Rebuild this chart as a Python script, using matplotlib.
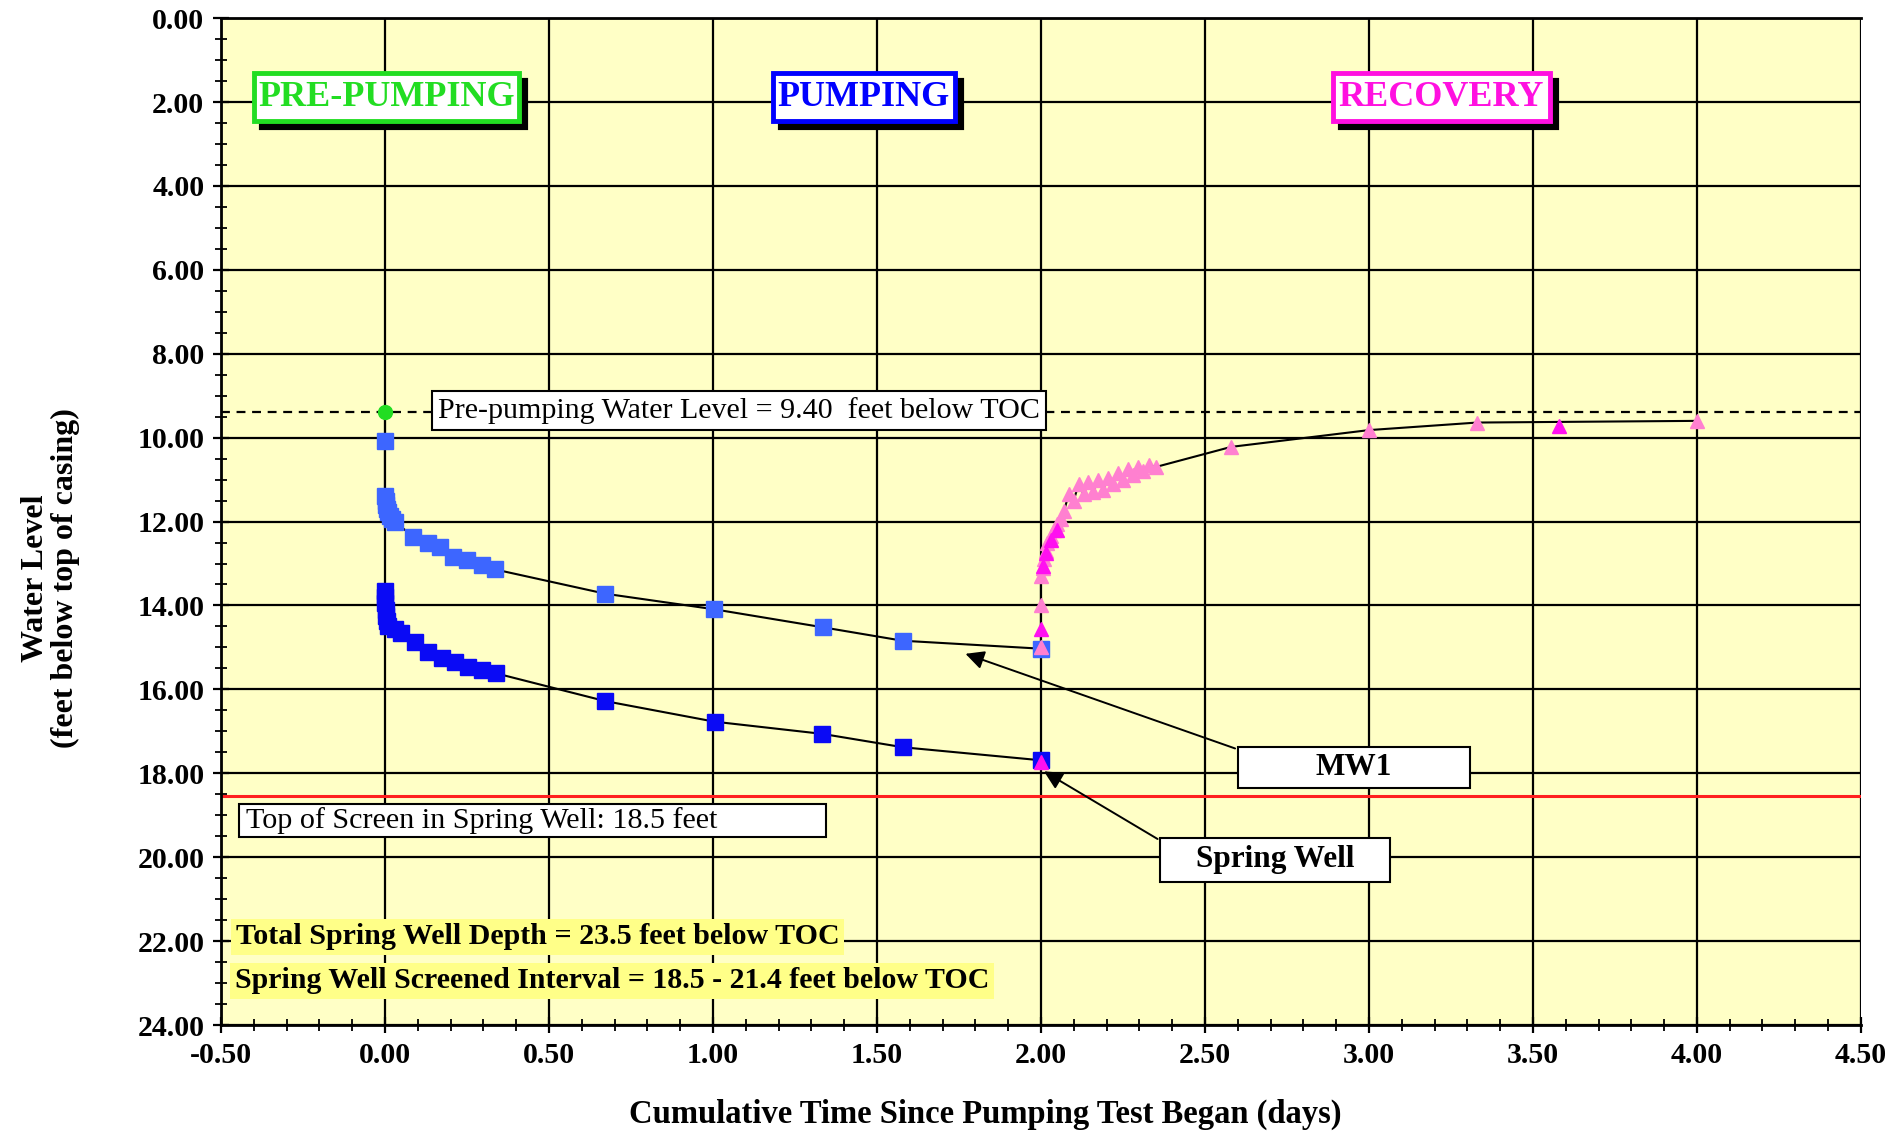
import numpy as np
import matplotlib
matplotlib.use("Agg")
import matplotlib.pyplot as plt
from matplotlib.patches import Rectangle
from matplotlib.transforms import offset_copy
from matplotlib.ticker import MultipleLocator, FormatStrFormatter

plt.rcParams["font.family"] = ["Liberation Serif", "DejaVu Serif"]

# pre-pumping level (days, feet below TOC)
pre_t = [0.0]
pre_wl = [9.40]

# MW1 during pumping
mw1_t = [0.0, 0.0, 0.002, 0.004, 0.007, 0.010, 0.015, 0.020, 0.030,
         0.086, 0.132, 0.168, 0.208, 0.249, 0.295, 0.335,
         0.672, 1.003, 1.335, 1.578, 2.0]
mw1_wl = [10.08, 11.40, 11.50, 11.60, 11.70, 11.78, 11.86, 11.93, 12.00,
          12.36, 12.52, 12.60, 12.84, 12.92, 13.04, 13.14,
          13.72, 14.09, 14.52, 14.84, 15.03]

# Spring Well during pumping
sw_t = [0.0, 0.0, 0.0, 0.002, 0.004, 0.007, 0.010, 0.030, 0.050,
        0.091, 0.132, 0.173, 0.213, 0.254, 0.295, 0.340,
        0.672, 1.005, 1.333, 1.580, 2.0]
sw_wl = [13.65, 13.80, 13.95, 14.10, 14.25, 14.38, 14.48, 14.56, 14.66,
         14.86, 15.10, 15.26, 15.34, 15.46, 15.54, 15.62,
         16.28, 16.77, 17.06, 17.38, 17.69]

# recovery (MW1)
rec_t = [2.0, 2.0, 2.0, 2.005, 2.01, 2.015, 2.02, 2.03, 2.04, 2.05, 2.06,
         2.07, 2.085, 2.10, 2.115, 2.13, 2.145, 2.16, 2.175, 2.19, 2.205,
         2.22, 2.235, 2.25, 2.265, 2.28, 2.295, 2.31, 2.33, 2.35,
         2.58, 3.0, 3.33, 4.0]
rec_wl = [15.0, 14.0, 13.3, 13.1, 12.9, 12.7, 12.5, 12.35, 12.2, 12.05, 11.95,
          11.75, 11.35, 11.5, 11.1, 11.35, 11.05, 11.3, 11.0, 11.25, 10.95,
          11.1, 10.85, 11.0, 10.75, 10.9, 10.7, 10.8, 10.65, 10.7,
          10.22, 9.82, 9.64, 9.60]

# recovery (Spring Well)
rec2_t = [2.0, 2.0, 2.005, 2.015, 2.03, 2.05, 3.58]
rec2_wl = [17.72, 14.55, 13.05, 12.75, 12.45, 12.2, 9.72]

pre_level = 9.40
screen_top = 18.55

xticks = np.arange(-0.5, 4.51, 0.5)
yticks = np.arange(0, 24.1, 2)

phases = ["PRE-PUMPING", "PUMPING", "RECOVERY"]
phase_colors = ["#22DD22", "#0000FF", "#FF10E0"]

fig = plt.figure(figsize=(18.95, 11.31), dpi=100)
ax = fig.add_axes([0.1166, 0.0937, 0.8654, 0.8903])
ax.set_facecolor("#FFFFC6")

ax.set_xlim(-0.5, 4.5)
ax.set_ylim(24, 0)
ax.set_xticks(xticks)
ax.set_yticks(yticks)
ax.xaxis.set_minor_locator(MultipleLocator(0.1))
ax.yaxis.set_minor_locator(MultipleLocator(0.5))
ax.xaxis.set_major_formatter(FormatStrFormatter("%.2f"))
ax.yaxis.set_major_formatter(FormatStrFormatter("%.2f"))
ax.grid(True, which="major", color="black", lw=1.6)
ax.set_axisbelow(True)
for s in ["left", "bottom", "top"]:
    ax.spines[s].set_linewidth(2)
ax.spines["right"].set_visible(False)
ax.tick_params(which="major", direction="inout", length=12, width=1.6,
               labelsize=21.5, pad=6)
ax.tick_params(which="minor", direction="inout", length=9, width=1.3)
for lab in ax.get_xticklabels() + ax.get_yticklabels():
    lab.set_fontweight("bold")

ax.set_xlabel("Cumulative Time Since Pumping Test Began (days)",
              fontsize=23.5, fontweight="bold")
ax.xaxis.set_label_coords(0.466, -0.0735)
ax.set_ylabel("Water Level\n(feet below top of casing)", fontsize=23,
              fontweight="bold", linespacing=1.05)
ax.yaxis.set_label_coords(-0.086, 0.444)

# reference lines
ax.axhline(pre_level, color="black", ls=(0, (4, 3)), lw=1.6, zorder=2)
ax.axhline(screen_top, color="#FF2020", lw=2.2, zorder=2)

# data
ax.plot(mw1_t, mw1_wl, color="black", lw=1.5, zorder=3)
ax.plot(sw_t, sw_wl, color="black", lw=1.5, zorder=3)
ax.plot(rec_t, rec_wl, color="black", lw=1.5, zorder=3)
ax.plot(pre_t + [mw1_t[0]], pre_wl + [mw1_wl[0]], color="black", lw=1.5, zorder=3)
ax.plot(mw1_t, mw1_wl, ls="none", marker="s", ms=11, color="#3D66FF", zorder=4)
ax.plot(sw_t, sw_wl, ls="none", marker="s", ms=11, color="#0A0AF5", zorder=4)
ax.plot(rec_t, rec_wl, ls="none", marker="^", ms=10, color="#FF80D0", zorder=5)
ax.plot(rec2_t, rec2_wl, ls="none", marker="^", ms=10, color="#FF10F0", zorder=5)
ax.plot(pre_t, pre_wl, ls="none", marker="o", ms=10, color="#22DD22", zorder=6)

# phase labels with drop shadow
shadow = offset_copy(ax.transData, fig=fig, x=7, y=-7, units="dots")
for txt, x0, x1, col in zip(phases, [-0.40, 1.184, 2.89], [0.41, 1.737, 3.553],
                            phase_colors):
    ax.add_patch(Rectangle((x0, 1.30), x1 - x0, 1.15, transform=shadow,
                           fc="black", ec="black", lw=3, zorder=6))
    ax.add_patch(Rectangle((x0, 1.30), x1 - x0, 1.15, fc="white", ec=col,
                           lw=3.5, zorder=7))
    ax.text((x0 + x1) / 2, 1.90, txt, ha="center", va="center", fontsize=26,
            fontweight="bold", color=col, zorder=8)

# pre-pumping level label
ax.text(1.08, 9.36, "Pre-pumping Water Level = 9.40  feet below TOC",
        ha="center", va="center", fontsize=21.6, zorder=7,
        bbox=dict(boxstyle="square,pad=0.2", fc="white", ec="black", lw=1.5))

# top of screen label
ax.add_patch(Rectangle((-0.445, 18.72), 1.79, 0.8, fc="white", ec="black",
                       lw=1.5, zorder=7))
ax.text(-0.425, 19.12, "Top of Screen in Spring Well: 18.5 feet",
        ha="left", va="center", fontsize=21.7, zorder=8)

# well callouts
ax.add_patch(Rectangle((2.6, 17.38), 0.707, 0.98, fc="white", ec="black",
                       lw=1.5, zorder=7))
ax.text(2.953, 17.87, "MW1", ha="center", va="center", fontsize=22.5,
        fontweight="bold", zorder=8)
ax.annotate("", xy=(1.762, 15.13), xytext=(2.6, 17.43),
            arrowprops=dict(arrowstyle="-|>", color="black", lw=1.4,
                            mutation_scale=28), zorder=6)

ax.add_patch(Rectangle((2.363, 19.54), 0.70, 1.04, fc="white", ec="black",
                       lw=1.5, zorder=7))
ax.text(2.713, 20.06, "Spring Well", ha="center", va="center", fontsize=22.5,
        fontweight="bold", zorder=8)
ax.annotate("", xy=(2.002, 17.92), xytext=(2.363, 19.6),
            arrowprops=dict(arrowstyle="-|>", color="black", lw=1.4,
                            mutation_scale=28), zorder=6)

# well construction notes
hl = dict(boxstyle="square,pad=0.15", fc="#FFFF88", ec="none")
ax.text(-0.455, 21.9, "Total Spring Well Depth = 23.5 feet below TOC",
        ha="left", va="center", fontsize=21.6, fontweight="bold", zorder=7, bbox=hl)
ax.text(-0.458, 22.94, "Spring Well Screened Interval = 18.5 - 21.4 feet below TOC",
        ha="left", va="center", fontsize=21.5, fontweight="bold", zorder=7, bbox=hl)

fig.savefig("out.png", dpi=100, facecolor="white")
